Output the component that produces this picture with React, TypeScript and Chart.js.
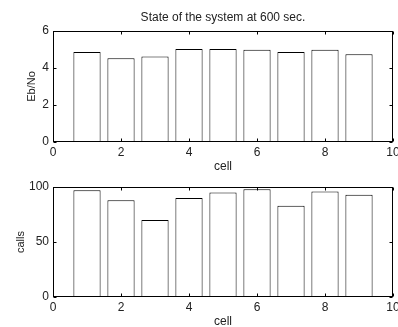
import React, { useEffect, useRef } from "react";
import { Chart, registerables } from "chart.js";

Chart.register(...registerables);

// Cell indices and per-cell measurements
const cells = [1, 2, 3, 4, 5, 6, 7, 8, 9];
const ebNo = [4.87, 4.53, 4.62, 5.03, 5.03, 4.98, 4.87, 4.98, 4.74];
const calls = [97, 88, 70, 90, 95, 98, 83, 96, 93];

// Tick values
const cellTicks = [0, 2, 4, 6, 8, 10];
const ebNoTicks = [0, 2, 4, 6];
const callsTicks = [0, 50, 100];

const TITLE = "State of the system at 600 sec.";
const FONT = "'Liberation Sans', Arial, Helvetica, sans-serif";
const TEXT = "#222";
const LINE = "#000";

// Draws the axes box with inward tick marks on all four sides
const boxPlugin = {
  id: "matlabBox",
  afterDatasetsDraw(chart: any) {
    const { ctx, chartArea, scales } = chart;
    const L = Math.round(chartArea.left) + 0.5;
    const R = Math.round(chartArea.right) - 0.5;
    const T = Math.round(chartArea.top) + 0.5;
    const B = Math.round(chartArea.bottom) - 0.5;
    const len = 3;
    ctx.save();
    ctx.strokeStyle = LINE;
    ctx.lineWidth = 1;
    ctx.strokeRect(L, T, R - L, B - T);
    ctx.beginPath();
    scales.x.ticks.forEach((t: any) => {
      const px = Math.round(scales.x.getPixelForValue(t.value)) + 0.5;
      ctx.moveTo(px, B);
      ctx.lineTo(px, B - len);
      ctx.moveTo(px, T);
      ctx.lineTo(px, T + len);
    });
    scales.y.ticks.forEach((t: any) => {
      const py = Math.round(scales.y.getPixelForValue(t.value)) + 0.5;
      ctx.moveTo(L, py);
      ctx.lineTo(L + len, py);
      ctx.moveTo(R, py);
      ctx.lineTo(R - len, py);
    });
    ctx.stroke();
    ctx.restore();
  },
};

type PanelProps = {
  values: number[];
  yTicks: number[];
  yLabel: string;
  yLabelPad: number;
  width: number;
  height: number;
  top: number;
  padTop: number;
  xAxisHeight: number;
  xTitlePad: number;
  title?: string;
};

function Panel(p: PanelProps) {
  const ref = useRef<HTMLCanvasElement | null>(null);

  useEffect(() => {
    if (!ref.current) return;
    const yMax = p.yTicks[p.yTicks.length - 1];
    const chart = new Chart(ref.current, {
      type: "bar",
      data: {
        datasets: [
          {
            data: cells.map((c, i) => ({ x: c, y: p.values[i] })),
            backgroundColor: "#fff",
            borderColor: LINE,
            borderWidth: 1,
            borderSkipped: false,
            barPercentage: 0.8,
            categoryPercentage: 1,
          },
        ],
      },
      options: {
        animation: false,
        responsive: false,
        events: [],
        layout: { padding: { left: 0, right: 5, top: p.padTop, bottom: 0 } },
        plugins: {
          legend: { display: false },
          tooltip: { enabled: false },
          title: {
            display: !!p.title,
            text: p.title || "",
            fullSize: false,
            color: TEXT,
            font: { family: FONT, size: 12, weight: "normal" },
            padding: { top: 10, bottom: 6.6 },
          },
        },
        scales: {
          x: {
            type: "linear",
            min: 0,
            max: 10,
            offset: false,
            grid: { display: false, drawTicks: false, offset: false },
            border: { display: false },
            afterBuildTicks: (s: any) => {
              s.ticks = cellTicks.map((v) => ({ value: v }));
            },
            ticks: {
              color: TEXT,
              padding: 3,
              maxRotation: 0,
              autoSkip: false,
              font: { family: FONT, size: 12 },
            },
            title: {
              display: true,
              text: "cell",
              color: TEXT,
              font: { family: FONT, size: 12 },
              padding: { top: 0, bottom: p.xTitlePad },
            },
            afterFit: (s: any) => {
              s.height = p.xAxisHeight;
              s.paddingLeft = 0;
              s.paddingRight = 0;
            },
          },
          y: {
            type: "linear",
            min: 0,
            max: yMax,
            grid: { display: false, drawTicks: false },
            border: { display: false },
            afterBuildTicks: (s: any) => {
              s.ticks = p.yTicks.map((v) => ({ value: v }));
            },
            ticks: {
              color: TEXT,
              padding: 4,
              autoSkip: false,
              font: { family: FONT, size: 12 },
            },
            title: {
              display: true,
              text: p.yLabel,
              color: TEXT,
              font: { family: FONT, size: 11 },
              padding: { top: p.yLabelPad, bottom: 0 },
            },
            afterFit: (s: any) => {
              s.width = 53;
              s.paddingTop = 0;
              s.paddingBottom = 0;
            },
          },
        },
      },
      plugins: [boxPlugin],
    } as any);
    return () => chart.destroy();
  }, []);

  return (
    <canvas
      ref={ref}
      width={p.width}
      height={p.height}
      style={{
        position: "absolute",
        left: 0,
        top: p.top,
        width: p.width,
        height: p.height,
        display: "block",
      }}
    />
  );
}

export default function App() {
  return (
    <div
      style={{
        position: "fixed",
        left: 0,
        top: 0,
        width: 398,
        height: 327,
        overflow: "hidden",
        background: "#fff",
      }}
    >
      <Panel
        values={ebNo}
        yTicks={ebNoTicks}
        yLabel="Eb/No"
        yLabelPad={25}
        width={398}
        height={176}
        top={0}
        padTop={0}
        xAxisHeight={34}
        xTitlePad={2}
        title={TITLE}
      />
      <Panel
        values={calls}
        yTicks={callsTicks}
        yLabel="calls"
        yLabelPad={14}
        width={398}
        height={160}
        top={176}
        padTop={11}
        xAxisHeight={39}
        xTitlePad={7}
      />
    </div>
  );
}
